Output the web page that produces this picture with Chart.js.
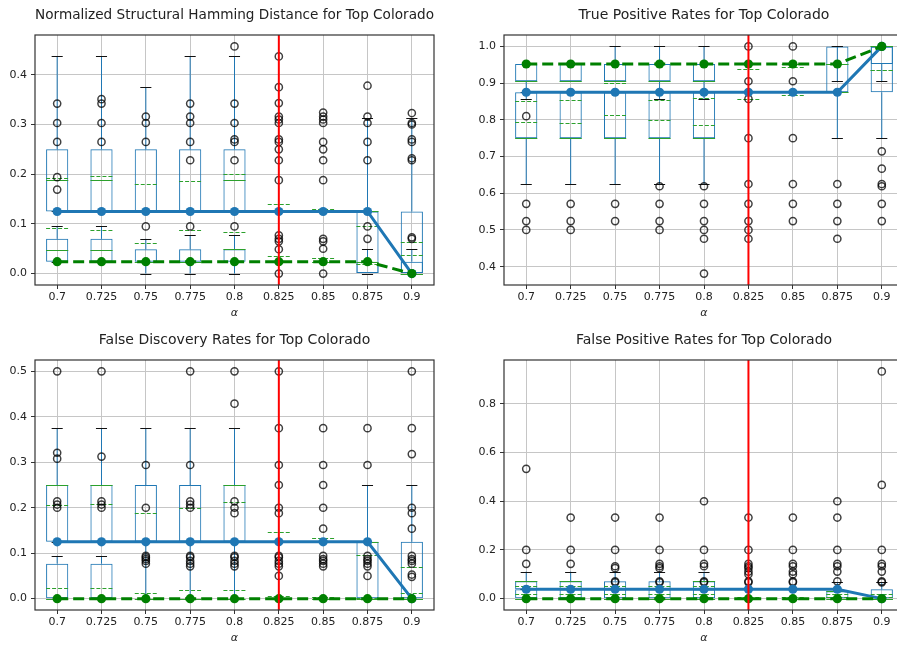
<!DOCTYPE html>
<html>
<head>
<meta charset="utf-8">
<script src="https://cdn.jsdelivr.net/npm/chart.js@4/dist/chart.umd.min.js"></script>
<style>
  html, body { margin: 0; padding: 0; background: #fff; overflow: hidden; width: 897px; height: 646px; }
  canvas { position: absolute; }
</style>
</head>
<body>
<canvas id="shd" width="450" height="325" style="left:0;top:0"></canvas>
<canvas id="tpr" width="470" height="325" style="left:450px;top:0"></canvas>
<canvas id="fdr" width="450" height="321" style="left:0;top:325px"></canvas>
<canvas id="fpr" width="470" height="321" style="left:450px;top:325px"></canvas>
<script>
const alphas = ['0.7', '0.725', '0.75', '0.775', '0.8', '0.825', '0.85', '0.875', '0.9'];
const chosenAlpha = '0.825';

// box rows: [whisker low, q1, median, mean, q3, whisker high]
const shdUpper = [
  [0.125, 0.125, 0.188, 0.192, 0.25, 0.4375],
  [0.125, 0.125, 0.188, 0.196, 0.25, 0.4375],
  [0.125, 0.125, 0.125, 0.181, 0.25, 0.375],
  [0.125, 0.125, 0.125, 0.186, 0.25, 0.4375],
  [0.125, 0.125, 0.188, 0.2, 0.25, 0.4375],
  [0.125, 0.125, 0.125, 0.141, 0.125, 0.125],
  [0.125, 0.125, 0.125, 0.129, 0.125, 0.125],
  [0, 0, 0.125, 0.095, 0.125, 0.3125],
  [0, 0, 0, 0.063, 0.125, 0.3125]
];
const shdLower = [
  [0.024, 0.024, 0.048, 0.091, 0.07, 0.095],
  [0.024, 0.024, 0.048, 0.088, 0.07, 0.095],
  [0, 0.024, 0.024, 0.061, 0.049, 0.07],
  [0, 0.024, 0.024, 0.088, 0.049, 0.077],
  [0, 0.024, 0.049, 0.083, 0.049, 0.077],
  [0.024, 0.024, 0.024, 0.035, 0.024, 0.024],
  [0.024, 0.024, 0.024, 0.031, 0.024, 0.024],
  [0, 0, 0.024, 0.02, 0.024, 0.049],
  [0, 0, 0, 0.038, 0.024, 0.049]
];
const shdOutliers = [
  [0.342, 0.303, 0.265, 0.194, 0.169],
  [0.351, 0.342, 0.303, 0.265],
  [0.316, 0.303, 0.265, 0.095],
  [0.342, 0.316, 0.303, 0.265, 0.228, 0.095],
  [0.457, 0.342, 0.303, 0.27, 0.265, 0.228, 0.095],
  [0.437, 0.375, 0.343, 0.316, 0.31, 0.303, 0.27, 0.265, 0.25, 0.228, 0.188, 0.077, 0.07, 0.065, 0.049, 0],
  [0.324, 0.316, 0.31, 0.303, 0.265, 0.25, 0.228, 0.188, 0.07, 0.065, 0.05, 0],
  [0.378, 0.316, 0.303, 0.265, 0.228, 0.095, 0.07],
  [0.323, 0.303, 0.3, 0.27, 0.265, 0.232, 0.228, 0.073, 0.07]
];
const shdBlue = [0.125, 0.125, 0.125, 0.125, 0.125, 0.125, 0.125, 0.125, 0];
const shdGreen = [0.024, 0.024, 0.024, 0.024, 0.024, 0.024, 0.024, 0.024, 0];

const tprUpper = [
  [0.625, 0.75, 0.75, 0.794, 0.875, 0.875],
  [0.625, 0.75, 0.75, 0.79, 0.875, 0.875],
  [0.625, 0.75, 0.75, 0.812, 0.875, 0.875],
  [0.625, 0.75, 0.75, 0.8, 0.875, 0.875],
  [0.625, 0.75, 0.75, 0.787, 0.875, 0.875],
  [0.875, 0.875, 0.875, 0.857, 0.875, 0.875],
  [0.875, 0.875, 0.875, 0.867, 0.875, 0.875],
  [0.75, 0.875, 0.875, 0.875, 1.0, 1.0],
  [0.75, 0.875, 1.0, 0.936, 1.0, 1.0]
];
const tprLower = [
  [0.857, 0.905, 0.905, 0.852, 0.952, 0.952],
  [0.905, 0.905, 0.905, 0.855, 0.952, 0.952],
  [0.905, 0.905, 0.905, 0.899, 0.952, 1.0],
  [0.857, 0.905, 0.905, 0.853, 0.952, 1.0],
  [0.857, 0.905, 0.905, 0.86, 0.952, 1.0],
  [0.952, 0.952, 0.952, 0.938, 0.952, 0.952],
  [0.952, 0.952, 0.952, 0.945, 0.952, 0.952],
  [0.905, 0.952, 0.952, 0.952, 0.952, 1.0],
  [0.905, 0.952, 1.0, 0.936, 1.0, 1.0]
];
const tprOutliers = [
  [0.81, 0.571, 0.524, 0.5],
  [0.571, 0.524, 0.5],
  [0.571, 0.524],
  [0.619, 0.571, 0.524, 0.5],
  [0.619, 0.571, 0.524, 0.5, 0.476, 0.381],
  [1.0, 0.905, 0.857, 0.75, 0.625, 0.571, 0.524, 0.5, 0.476],
  [1.0, 0.905, 0.75, 0.625, 0.571, 0.524],
  [0.625, 0.571, 0.524, 0.476],
  [0.714, 0.667, 0.625, 0.619, 0.571, 0.524]
];
const tprBlue = [0.875, 0.875, 0.875, 0.875, 0.875, 0.875, 0.875, 0.875, 1.0];
const tprGreen = [0.952, 0.952, 0.952, 0.952, 0.952, 0.952, 0.952, 0.952, 1.0];

const fdrUpper = [
  [0.125, 0.125, 0.25, 0.206, 0.25, 0.375],
  [0.125, 0.125, 0.25, 0.208, 0.25, 0.375],
  [0, 0.125, 0.125, 0.189, 0.25, 0.375],
  [0, 0.125, 0.125, 0.199, 0.25, 0.375],
  [0, 0.125, 0.25, 0.212, 0.25, 0.375],
  [0.125, 0.125, 0.125, 0.146, 0.125, 0.125],
  [0.125, 0.125, 0.125, 0.133, 0.125, 0.125],
  [0, 0, 0.125, 0.0965, 0.125, 0.25],
  [0, 0, 0, 0.069, 0.125, 0.25]
];
const fdrLower = [
  [0, 0, 0, 0.0235, 0.077, 0.094],
  [0, 0, 0, 0.0235, 0.077, 0.094],
  [0, 0, 0, 0.013, 0, 0],
  [0, 0, 0, 0.02, 0, 0],
  [0, 0, 0, 0.02, 0, 0],
  [0, 0, 0, 0.006, 0, 0],
  [0, 0, 0, 0.004, 0, 0],
  [0, 0, 0, 0.002, 0, 0],
  [0, 0, 0, 0.013, 0, 0]
];
const fdrOutliers = [
  [0.5, 0.321, 0.308, 0.214, 0.207, 0.2],
  [0.5, 0.3125, 0.214, 0.207, 0.2],
  [0.294, 0.2, 0.094, 0.091, 0.087, 0.083, 0.077],
  [0.5, 0.294, 0.214, 0.207, 0.2, 0.094, 0.091, 0.083, 0.077, 0.071],
  [0.5, 0.429, 0.214, 0.2, 0.188, 0.094, 0.091, 0.083, 0.077, 0.071],
  [0.5, 0.375, 0.294, 0.25, 0.2, 0.188, 0.094, 0.091, 0.083, 0.077, 0.071, 0.05],
  [0.375, 0.294, 0.25, 0.2, 0.154, 0.094, 0.087, 0.083, 0.077, 0.071],
  [0.375, 0.294, 0.094, 0.087, 0.083, 0.077, 0.071, 0.05],
  [0.5, 0.375, 0.318, 0.2, 0.188, 0.154, 0.094, 0.087, 0.083, 0.077, 0.053, 0.048]
];
const fdrBlue = [0.125, 0.125, 0.125, 0.125, 0.125, 0.125, 0.125, 0.125, 0];
const fdrGreen = [0, 0, 0, 0, 0, 0, 0, 0, 0];

const fprUpper = [
  [0.0385, 0.0385, 0.0714, 0.05, 0.0714, 0.111],
  [0.0385, 0.0385, 0.0714, 0.05, 0.0714, 0.111],
  [0.0385, 0.0385, 0.0385, 0.05, 0.0714, 0.111],
  [0.0385, 0.0385, 0.0385, 0.05, 0.0714, 0.111],
  [0.0385, 0.0385, 0.0714, 0.05, 0.0714, 0.111],
  [0.0385, 0.0385, 0.0385, 0.04, 0.0385, 0.0385],
  [0.0385, 0.0385, 0.0385, 0.04, 0.0385, 0.0385],
  [0, 0, 0.03, 0.02, 0.03, 0.067],
  [0, 0, 0, 0.02, 0.0385, 0.067]
];
const fprLower = [
  [0, 0, 0, 0.02, 0.0385, 0.0385],
  [0, 0, 0, 0.02, 0.0385, 0.0385],
  [0, 0, 0, 0.02, 0.0385, 0.0385],
  [0, 0, 0, 0.02, 0.0385, 0.0385],
  [0, 0, 0, 0.02, 0.0385, 0.0385],
  [0, 0, 0, 0.005, 0, 0],
  [0, 0, 0, 0.005, 0, 0],
  [0, 0, 0, 0.005, 0, 0],
  [0, 0, 0, 0.005, 0, 0]
];
const fprOutliers = [
  [0.533, 0.2, 0.143],
  [0.333, 0.2, 0.143],
  [0.333, 0.2, 0.133, 0.125, 0.071, 0.067],
  [0.333, 0.2, 0.143, 0.133, 0.125, 0.071, 0.067],
  [0.4, 0.2, 0.143, 0.133, 0.071, 0.067],
  [0.333, 0.2, 0.143, 0.133, 0.125, 0.111, 0.1, 0.071, 0.067],
  [0.333, 0.2, 0.143, 0.133, 0.111, 0.1, 0.071, 0.067],
  [0.4, 0.333, 0.2, 0.143, 0.133, 0.111, 0.071],
  [0.933, 0.467, 0.2, 0.143, 0.133, 0.111, 0.071, 0.067]
];
const fprBlue = [0.0385, 0.0385, 0.0385, 0.0385, 0.0385, 0.0385, 0.0385, 0.0385, 0];
const fprGreen = [0, 0, 0, 0, 0, 0, 0, 0, 0];

const FONT = 'DejaVu Sans';
const C_BLUE = '#1f77b4', C_GREEN = '#2ca02c';

// whiskers, caps, medians and means for the floating-bar boxes
const boxParts = {
  id: 'boxParts',
  beforeDatasetDraw(chart, args) {
    const ds = chart.data.datasets[args.index];
    if (!ds.boxRows) return;
    const ctx = chart.ctx, y = chart.scales.y;
    ctx.save();
    ctx.lineWidth = 1;
    args.meta.data.forEach((bar, i) => {
      const r = ds.boxRows[i];
      const cw = bar.width / 4;
      ctx.strokeStyle = C_BLUE;
      ctx.beginPath();
      ctx.moveTo(bar.x, y.getPixelForValue(r[0]));
      ctx.lineTo(bar.x, y.getPixelForValue(r[1]));
      ctx.moveTo(bar.x, y.getPixelForValue(r[4]));
      ctx.lineTo(bar.x, y.getPixelForValue(r[5]));
      ctx.stroke();
      ctx.strokeStyle = '#111';
      ctx.beginPath();
      [r[0], r[5]].forEach(v => {
        const py = Math.round(y.getPixelForValue(v)) + 0.5;
        ctx.moveTo(bar.x - cw, py);
        ctx.lineTo(bar.x + cw, py);
      });
      ctx.stroke();
    });
    ctx.restore();
  },
  afterDatasetDraw(chart, args) {
    const ds = chart.data.datasets[args.index];
    if (!ds.boxRows) return;
    const ctx = chart.ctx, y = chart.scales.y;
    ctx.save();
    ctx.lineWidth = 1;
    ctx.strokeStyle = C_GREEN;
    args.meta.data.forEach((bar, i) => {
      const r = ds.boxRows[i];
      const hw = bar.width / 2;
      const pm = Math.round(y.getPixelForValue(r[2])) + 0.5;
      ctx.setLineDash([]);
      ctx.beginPath();
      ctx.moveTo(bar.x - hw, pm);
      ctx.lineTo(bar.x + hw, pm);
      ctx.stroke();
      const pa = Math.round(y.getPixelForValue(r[3])) + 0.5;
      ctx.setLineDash([4, 2]);
      ctx.beginPath();
      ctx.moveTo(bar.x - hw, pa);
      ctx.lineTo(bar.x + hw, pa);
      ctx.stroke();
    });
    ctx.restore();
  },
  afterDatasetsDraw(chart) {
    const ctx = chart.ctx, a = chart.chartArea;
    const px = chart.scales.x.getPixelForValue(alphas.indexOf(chosenAlpha));
    ctx.save();
    ctx.strokeStyle = 'red';
    ctx.lineWidth = 2;
    ctx.beginPath();
    ctx.moveTo(px, a.top);
    ctx.lineTo(px, a.bottom);
    ctx.stroke();
    ctx.strokeStyle = '#333';
    ctx.lineWidth = 1.2;
    ctx.strokeRect(a.left, a.top, a.right - a.left, a.bottom - a.top);
    ctx.restore();
  }
};

function boxDataset(rows, order) {
  return {
    type: 'bar',
    data: rows.map(r => [r[1], r[4]]),
    boxRows: rows,
    backgroundColor: 'transparent',
    borderColor: C_BLUE,
    borderWidth: 1,
    borderSkipped: false,
    barPercentage: 0.5,
    categoryPercentage: 1,
    grouped: false,
    order: order
  };
}

function drawPanel(id, title, upper, lower, outliers, blue, green, yMin, yMax, step, yWidth, xHeight, alphaPad) {
  const points = [];
  outliers.forEach((vals, i) => vals.forEach(v => points.push({x: alphas[i], y: v})));
  new Chart(document.getElementById(id), {
    type: 'bar',
    data: {
      labels: alphas,
      datasets: [
        boxDataset(upper, 6),
        boxDataset(lower, 5),
        {
          type: 'line',
          data: points,
          showLine: false,
          pointRadius: 3.6,
          pointBorderWidth: 1.5,
          pointBorderColor: 'rgba(0,0,0,0.75)',
          pointBackgroundColor: 'transparent',
          order: 3
        },
        {
          type: 'line',
          data: blue,
          borderColor: C_BLUE,
          backgroundColor: C_BLUE,
          borderWidth: 3,
          pointRadius: 4.6,
          pointBorderWidth: 0,
          pointBackgroundColor: C_BLUE,
          order: 2
        },
        {
          type: 'line',
          data: green,
          borderColor: 'green',
          backgroundColor: 'green',
          borderWidth: 3,
          borderDash: [11, 5],
          pointRadius: 4.6,
          pointBorderWidth: 0,
          pointBackgroundColor: 'green',
          order: 1
        }
      ]
    },
    options: {
      responsive: false,
      animation: false,
      layout: { padding: { left: 0, right: 16, top: 0, bottom: 0 } },
      plugins: {
        legend: { display: false },
        tooltip: { enabled: false },
        title: {
          display: true,
          text: title,
          fullSize: false,
          color: '#222',
          font: { family: FONT, size: 14, weight: 'normal' },
          padding: { top: 7, bottom: 11.2 }
        }
      },
      scales: {
        x: {
          offset: true,
          afterFit: s => { s.height = xHeight; },
          grid: { offset: false, color: '#c6c6c6', lineWidth: 1, tickLength: 4, tickColor: '#333' },
          border: { display: false },
          ticks: { color: '#222', font: { family: FONT, size: 11 }, maxRotation: 0, autoSkip: false, padding: 2 },
          title: { display: true, text: 'α', color: '#222', font: { family: FONT, size: 11, style: 'italic' }, padding: { top: alphaPad, bottom: alphaPad } }
        },
        y: {
          min: yMin,
          max: yMax,
          afterFit: s => { s.width = yWidth; },
          grid: { color: '#c6c6c6', lineWidth: 1, tickLength: 4, tickColor: '#333' },
          border: { display: false },
          ticks: {
            stepSize: step,
            includeBounds: false,
            color: '#222',
            font: { family: FONT, size: 11 },
            padding: 4,
            callback: v => Number(v).toFixed(1)
          }
        }
      }
    },
    plugins: [boxParts]
  });
}

drawPanel('shd', 'Normalized Structural Hamming Distance for Top Colorado',
  shdUpper, shdLower, shdOutliers, shdBlue, shdGreen, -0.0229, 0.48, 0.1, 35, 40, 5);
drawPanel('tpr', 'True Positive Rates for Top Colorado',
  tprUpper, tprLower, tprOutliers, tprBlue, tprGreen, 0.35, 1.031, 0.1, 54, 40, 5);
drawPanel('fdr', 'False Discovery Rates for Top Colorado',
  fdrUpper, fdrLower, fdrOutliers, fdrBlue, fdrGreen, -0.025, 0.525, 0.1, 35, 36, 1.5);
drawPanel('fpr', 'False Positive Rates for Top Colorado',
  fprUpper, fprLower, fprOutliers, fprBlue, fprGreen, -0.0467, 0.98, 0.2, 54, 36, 1.5);
</script>
</body>
</html>
